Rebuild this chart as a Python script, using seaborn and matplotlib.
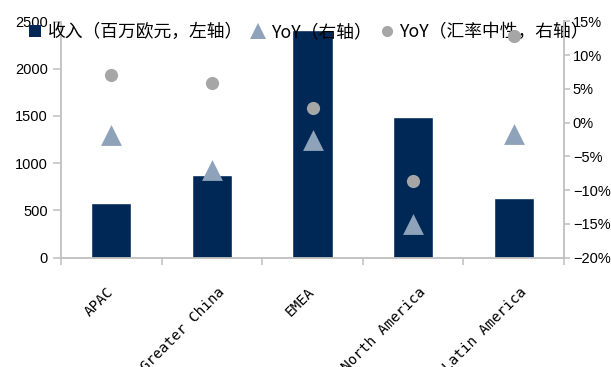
import numpy as np
import pandas as pd
import matplotlib
matplotlib.use("Agg")
import matplotlib.pyplot as plt
import matplotlib.transforms as mtransforms
from matplotlib.lines import Line2D
import seaborn as sns

# ---- data ----
regions = ["APAC", "Greater China", "EMEA", "North America", "Latin America"]
revenue = [575, 875, 2410, 1490, 630]          # 百万欧元, left axis
yoy = [-1.9, -7.0, -2.6, -15.1, -1.7]           # %, right axis
yoy_fx_neutral = [7.0, 5.9, 2.1, -8.6, 12.8]    # %, right axis
left_ticks = [0, 500, 1000, 1500, 2000, 2500]
right_ticks = [-20, -15, -10, -5, 0, 5, 10, 15]
legend_labels = ["收入（百万欧元，左轴）", "YoY（右轴）", "YoY（汇率中性，右轴）"]

navy = "#002856"
tri_color = "#8EA3B9"
dot_color = "#A6A6A6"
spine_gray = "#BFBFBF"
txt = "#000000"

sns.set_style("white")
plt.rcParams["font.family"] = ["Liberation Sans", "Noto Sans CJK SC", "DejaVu Sans"]
plt.rcParams["axes.unicode_minus"] = True
plt.rcParams["text.color"] = txt

df = pd.DataFrame({"region": regions, "revenue": revenue,
                   "yoy": yoy, "yoy_fx": yoy_fx_neutral})

fig = plt.figure(figsize=(6.11, 3.67), dpi=100)
W, H = 611, 367
ax = fig.add_axes([61 / W, (H - 257.5) / H, (564 - 61) / W, (257.5 - 21.5) / H])

sns.barplot(data=df, x="region", y="revenue", color=navy, width=0.4,
            saturation=1, ax=ax, zorder=2)
ax.set_ylim(0, 2500)
ax.set_xlim(-0.5, 4.5)
ax.set_yticks(left_ticks)
ax.set_yticklabels([str(t) for t in left_ticks])
ax.set_xlabel("")
ax.set_ylabel("")

ax2 = ax.twinx()
sns.scatterplot(x=np.arange(len(regions)), y=df["yoy_fx"], marker="o", s=90,
                color=dot_color, linewidth=0, ax=ax2, zorder=3, legend=False)
sns.scatterplot(x=np.arange(len(regions)), y=df["yoy"], marker="^", s=225,
                color=tri_color, linewidth=0, ax=ax2, zorder=3, legend=False)
ax2.set_ylim(-20, 15)
ax2.set_yticks(right_ticks)
ax2.set_yticklabels([f"{t}%".replace("-", "\u2212") for t in right_ticks])
ax2.set_ylabel("")
ax2.set_xlim(-0.5, 4.5)

# spines
for a in (ax, ax2):
    for s in a.spines.values():
        s.set_visible(False)
ax.spines["left"].set_visible(True)
ax.spines["bottom"].set_visible(True)
ax2.spines["right"].set_visible(True)
for s in (ax.spines["left"], ax.spines["bottom"], ax2.spines["right"]):
    s.set_color(spine_gray)
    s.set_linewidth(1.3)

ax.tick_params(axis="y", which="major", direction="out", length=5.5, width=1.1,
               color=spine_gray, pad=4, labelsize=10.5, labelcolor=txt, left=True)
ax2.tick_params(axis="y", which="major", direction="out", length=4.3, width=1.1,
                color=spine_gray, pad=2, labelsize=10.5, labelcolor=txt, right=True)

# x: category boundary ticks + rotated labels
ax.set_xticks(np.arange(len(regions)))
ax.set_xticks(np.arange(len(regions) + 1) - 0.5, minor=True)
ax.tick_params(axis="x", which="minor", direction="out", length=5, width=1.1,
               color=spine_gray, bottom=True)
ax.tick_params(axis="x", which="major", length=0, pad=20)
ax.set_xticklabels(regions, rotation=45, ha="right", va="top",
                   rotation_mode="anchor", fontsize=10.3,
                   family=["DejaVu Sans Mono"], color=txt)
for lab in ax.get_xticklabels():
    shift = ((len(lab.get_text()) - 4) * 1.2 - 5) / 100.0
    lab.set_transform(lab.get_transform() +
                      mtransforms.ScaledTranslation(shift, 0, fig.dpi_scale_trans))

# legend
handles = [
    Line2D([], [], linestyle="none", marker="s", markersize=8, color=navy, markeredgewidth=0),
    Line2D([], [], linestyle="none", marker="^", markersize=11, color=tri_color, markeredgewidth=0),
    Line2D([], [], linestyle="none", marker="o", markersize=8, color=dot_color, markeredgewidth=0),
]
leg = ax.legend(handles, legend_labels, ncol=3, frameon=False,
                loc="center left", bbox_to_anchor=(28.8 / W, 1 - 32 / H),
                bbox_transform=fig.transFigure, borderaxespad=0, borderpad=0,
                handlelength=0.75, handletextpad=0.35, columnspacing=0.45,
                prop={"family": ["Noto Sans CJK SC", "DejaVu Sans"], "size": 12.8})
for t in leg.get_texts():
    t.set_color(txt)
leg.set_zorder(2.5)

fig.savefig("out.png", dpi=100)
